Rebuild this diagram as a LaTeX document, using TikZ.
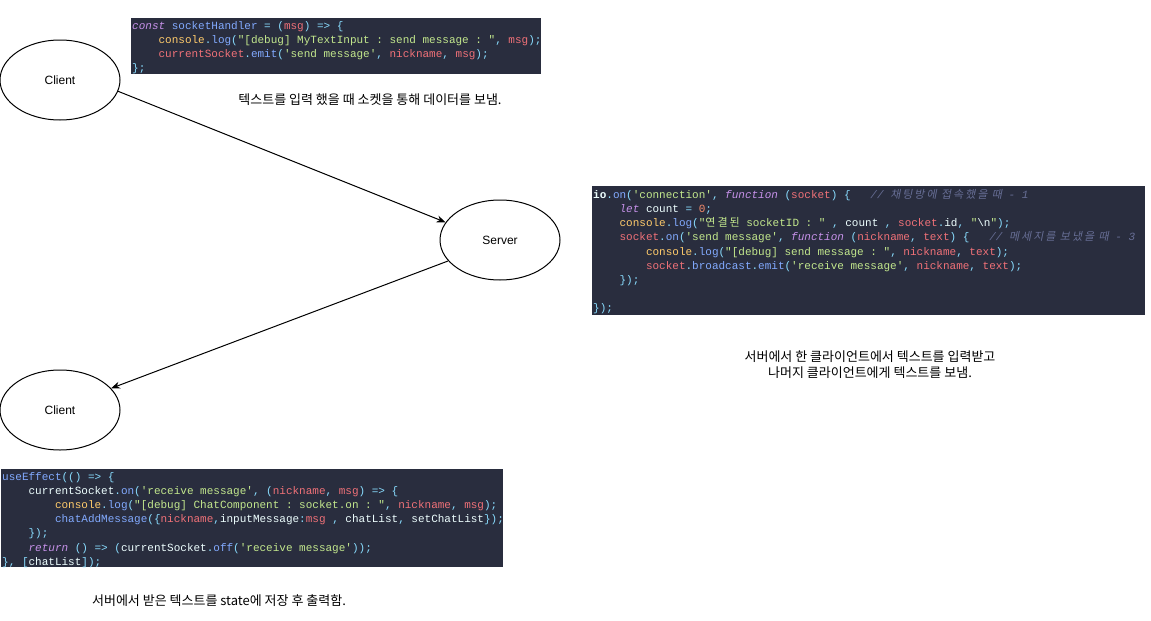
\documentclass[tikz,border=0pt]{standalone}
\usepackage{fontspec}
\usepackage{tikz}
\usetikzlibrary{arrows.meta,shapes.geometric}
\setmainfont{Liberation Sans}
\setmonofont{Liberation Mono}
\newfontfamily\kr{Noto Sans CJK KR}
\newfontfamily\krmono[LetterSpace=18]{Noto Sans CJK KR}
\newfontfamily\krit[FakeSlant=0.2,LetterSpace=18]{Noto Sans CJK KR}

\definecolor{codebg}{HTML}{292D3E}
\definecolor{codefg}{HTML}{EEFFFF}
\definecolor{kwcol}{HTML}{C792EA}
\definecolor{fncol}{HTML}{82AAFF}
\definecolor{strcol}{HTML}{C3E88D}
\definecolor{varcol}{HTML}{F07178}
\definecolor{numcol}{HTML}{F78C6C}
\definecolor{objcol}{HTML}{FFCB6B}
\definecolor{puncol}{HTML}{89DDFF}
\definecolor{comcol}{HTML}{676E95}

\newcommand\ckw[1]{\textcolor{kwcol}{\itshape #1}}
\newcommand\cfn[1]{\textcolor{fncol}{#1}}
\newcommand\cst[1]{\textcolor{strcol}{#1}}
\newcommand\cvr[1]{\textcolor{varcol}{#1}}
\newcommand\cnm[1]{\textcolor{numcol}{#1}}
\newcommand\cob[1]{\textcolor{objcol}{#1}}
\newcommand\cpu[1]{\textcolor{puncol}{#1}}
\newcommand\ccm[1]{\textcolor{comcol}{\itshape #1}}
\newcommand\gap[1]{\mbox{}\hskip#1\fontdimen2\font\relax}

\begin{document}
\begin{tikzpicture}[
x=1pt, y=-1pt,
actor/.style = {ellipse, draw, line width=1pt, minimum width=120pt, minimum height=80pt, inner sep=0pt, font=\fontsize{12}{14}\selectfont},
codebox/.style = {anchor=north west, fill=codebg, inner sep=0pt},
codetext/.style = {anchor=north west, align=left, inner xsep=1pt, inner ysep=3pt, text=codefg, font=\ttfamily\fontsize{11}{14.2}\selectfont},
note/.style = {align=center, font=\kr\fontsize{13}{16}\selectfont},
flow/.style = {-{Stealth[length=9pt,width=7pt]}, line width=1pt}
]
\path[use as bounding box, fill=white] (0,0) rectangle (1151,621);

\node[actor] (c1) at (60,80) {Client};
\node[actor] (srv) at (500,240) {Server};
\node[actor] (c2) at (60,410) {Client};

\draw[flow] (c1.-11) -- (srv.162);
\draw[flow] (srv.202) -- (c2.23);

% client send
\node[codebox, minimum width=410pt, minimum height=56pt] (sendbox) at (131,18) {};
\node[codetext] (sendcode) at (sendbox.north west) {%
	\ckw{const} \cfn{socketHandler} \cpu{= (}\cvr{msg}\cpu{) => \{}\\
	\gap{4}\cob{console}\cpu{.}\cfn{log}\cpu{(}\cst{"[debug] MyTextInput : send message : "}\cpu{,} \cvr{msg}\cpu{);}\\
	\gap{4}\cvr{currentSocket}\cpu{.}\cfn{emit}\cpu{(}\cst{'send message'}\cpu{,} \cvr{nickname}\cpu{,} \cvr{msg}\cpu{);}\\
	\cpu{\};}};
\node[note] (sendnote) at (370,100) {텍스트를 입력 했을 때 소켓을 통해 데이터를 보냄.};

% server relay
\node[codebox, minimum width=553pt, minimum height=129pt] (relaybox) at (592,186) {};
\begin{scope}
	\clip (relaybox.south west) rectangle (relaybox.north east);
	\node[codetext] (relaycode) at (relaybox.north west) {%
		\textbf{io}\cpu{.}\cfn{on}\cpu{(}\cst{'connection'}\cpu{,} \ckw{function} \cpu{(}\cvr{socket}\cpu{) \{}\gap{3}\ccm{// {\krit\upshape 채팅방에 접속했을 때} - 1}\\
		\gap{4}\ckw{let} count \cpu{=} \cnm{0}\cpu{;}\\
		\gap{4}\cob{console}\cpu{.}\cfn{log}\cpu{(}\cst{"{\krmono 연결된} socketID : "} \cpu{,} count \cpu{,} \cvr{socket}\cpu{.}id\cpu{,} \cst{"}\textbackslash n\cst{"}\cpu{);}\\
		\gap{4}\cvr{socket}\cpu{.}\cfn{on}\cpu{(}\cst{'send message'}\cpu{,} \ckw{function} \cpu{(}\cvr{nickname}\cpu{,} \cvr{text}\cpu{) \{}\gap{3}\ccm{// {\krit\upshape 메세지를 보냈을 때} - 3}\\
		\gap{8}\cob{console}\cpu{.}\cfn{log}\cpu{(}\cst{"[debug] send message : "}\cpu{,} \cvr{nickname}\cpu{,} \cvr{text}\cpu{);}\\
		\gap{8}\cvr{socket}\cpu{.}\cfn{broadcast}\cpu{.}\cfn{emit}\cpu{(}\cst{'receive message'}\cpu{,} \cvr{nickname}\cpu{,} \cvr{text}\cpu{);}\\
		\gap{4}\cpu{\});}\\
		\mbox{}\\
		\cpu{\});}};
\end{scope}
\node[note] (relaynote) at (870,365) {서버에서 한 클라이언트에서 텍스트를 입력받고\\나머지 클라이언트에게 텍스트를 보냄.};

% client receive
\node[codebox, minimum width=502pt, minimum height=98pt] (recvbox) at (1,469) {};
\node[codetext] (recvcode) at (recvbox.north west) {%
	\cfn{useEffect}\cpu{(() => \{}\\
	\gap{4}currentSocket\cpu{.}\cfn{on}\cpu{(}\cst{'receive message'}\cpu{, (}\cvr{nickname}\cpu{,} \cvr{msg}\cpu{) => \{}\\
	\gap{8}\cob{console}\cpu{.}\cfn{log}\cpu{(}\cst{"[debug] ChatComponent : socket.on : "}\cpu{,} \cvr{nickname}\cpu{,} \cvr{msg}\cpu{);}\\
	\gap{8}\cfn{chatAddMessage}\cpu{(\{}\cvr{nickname}\cpu{,}inputMessage\cpu{:}\cvr{msg} \cpu{,} chatList\cpu{,} setChatList\cpu{\});}\\
	\gap{4}\cpu{\});}\\
	\gap{4}\ckw{return} \cpu{() => (}currentSocket\cpu{.}\cfn{off}\cpu{(}\cst{'receive message'}\cpu{));}\\
	\cpu{\}, [}chatList\cpu{]);}};
\node[note] (recvnote) at (219,601) {서버에서 받은 텍스트를 state에 저장 후 출력함.};
\end{tikzpicture}
\end{document}
